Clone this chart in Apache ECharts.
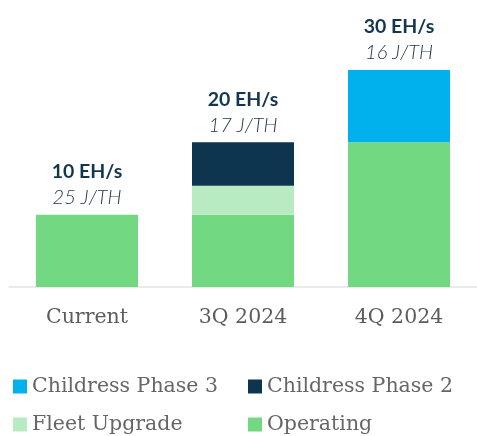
<!DOCTYPE html>
<html>
<head>
<meta charset="utf-8">
<script src="https://cdn.jsdelivr.net/npm/echarts@6/dist/echarts.min.js"></script>
<style>html,body{margin:0;padding:0;background:#fff}#c{width:477px;height:436px}</style>
</head>
<body>
<div id="c"></div>
<script>
const categories = ['Current', '3Q 2024', '4Q 2024'];
const operating = [10, 10, 20];
const fleetUpgrade = [0, 4, 0];
const childressPhase2 = [0, 6, 0];
const childressPhase3 = [0, 0, 10];
const totalLabels = ['10 EH/s', '20 EH/s', '30 EH/s'];
const efficiencyLabels = ['25 J/TH', '17 J/TH', '16 J/TH'];

const colors = {
  'Operating': '#72d982',
  'Fleet Upgrade': '#b8ebc1',
  'Childress Phase 2': '#0d354f',
  'Childress Phase 3': '#00b1ee'
};
const serif = 'DejaVu Serif';
function seriesOf(name, data) {
  return { name, type: 'bar', stack: 's', data, barWidth: 102, itemStyle: { color: colors[name] } };
}
const legendStyle = { color: '#666', fontFamily: serif, fontSize: 20.5 };
function legendAt(name, left, top) {
  return { data: [name], left, top, padding: 0, itemWidth: 14, itemHeight: 14, icon: 'rect', itemGap: 5,
    textStyle: legendStyle, selectedMode: false };
}

const chart = echarts.init(document.getElementById('c'));
chart.setOption({
  animation: false,
  grid: { left: 9, width: 471, top: 70, bottom: 149 },
  xAxis: {
    type: 'category', data: categories,
    axisLine: { lineStyle: { color: '#e3e3e3', width: 1.5 } },
    axisTick: { show: false },
    axisLabel: { color: '#5c5c5c', fontFamily: serif, fontSize: 20.5, margin: 20 }
  },
  yAxis: { type: 'value', min: 0, max: 30, show: false },
  legend: [
    legendAt('Childress Phase 3', 13, 376),
    legendAt('Childress Phase 2', 248, 376),
    legendAt('Fleet Upgrade', 13, 414),
    legendAt('Operating', 248, 414)
  ],
  series: [
    seriesOf('Operating', operating),
    seriesOf('Fleet Upgrade', fleetUpgrade),
    seriesOf('Childress Phase 2', childressPhase2),
    seriesOf('Childress Phase 3', childressPhase3),
    {
      name: 'total', type: 'bar', stack: 's', barWidth: 102,
      data: categories.map(() => 0),
      itemStyle: { color: 'transparent' },
      label: {
        show: true, position: 'top', distance: 4,
        formatter: p => '{a|' + totalLabels[p.dataIndex] + '}\n{b|' + efficiencyLabels[p.dataIndex] + '}',
        rich: {
          a: { fontFamily: 'Lato', fontWeight: 'bold', fontSize: 19.5, color: '#12364f', lineHeight: 26, align: 'center' },
          b: { fontFamily: 'Lato', fontStyle: 'italic', fontWeight: 300, fontSize: 20, color: '#1f3447', lineHeight: 26, align: 'center' }
        }
      }
    }
  ]
});
</script>
</body>
</html>
